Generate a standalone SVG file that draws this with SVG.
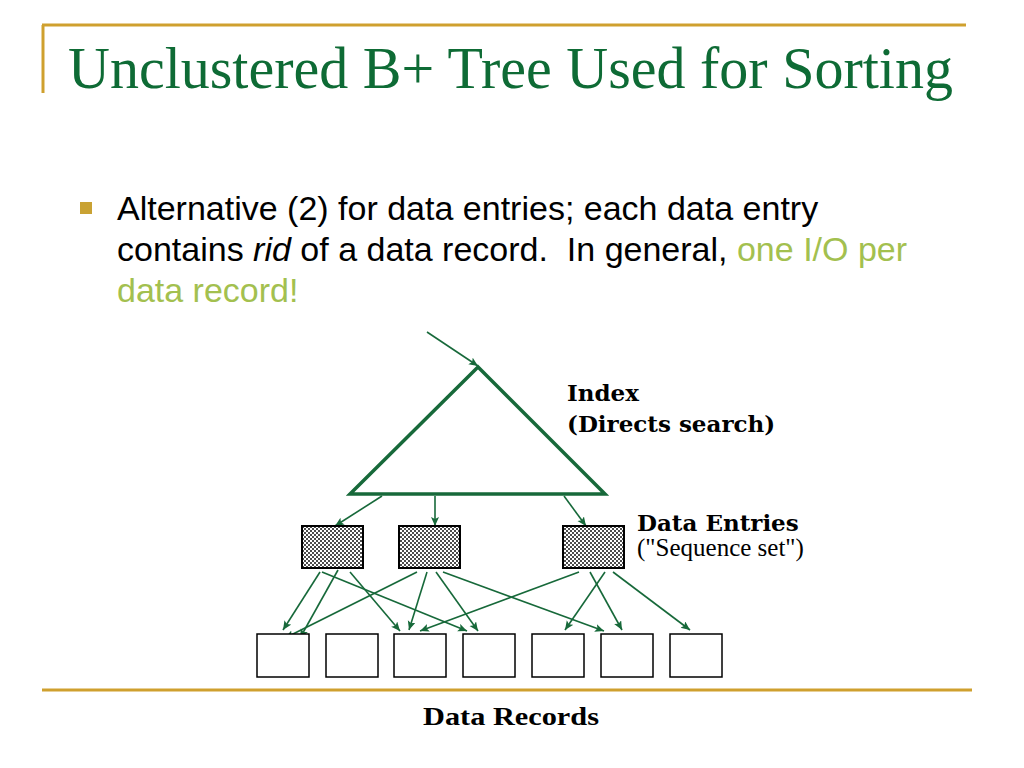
<svg xmlns="http://www.w3.org/2000/svg" width="1024" height="768" viewBox="0 0 1024 768">
<defs>
<style>
.gold{stroke:#CFA02E;stroke-width:3;fill:none}
.title{font-family:"Liberation Serif",serif;font-size:60px;fill:#0E6B35}
.body{font-family:"Liberation Sans",Arial,sans-serif;font-size:34px;fill:#000}
.hl{fill:#A3C04F}
.lbl{font-family:"DejaVu Serif",serif;font-weight:bold;font-size:23px;fill:#000}
.sub{font-family:"Liberation Serif",serif;font-size:25px;fill:#000}
.tri{fill:none;stroke:#17693A;stroke-width:3.5;stroke-linejoin:miter}
.arr{stroke:#17693A;stroke-width:1.6;fill:none;marker-end:url(#ah)}
.entry{fill:url(#stip);stroke:#000;stroke-width:2}
.rec{fill:#fff;stroke:#000;stroke-width:1.5}
.rl{font-family:"Liberation Serif",serif;font-weight:bold;font-size:26px;fill:#000}
</style>
<marker id="ah" markerUnits="userSpaceOnUse" markerWidth="12" markerHeight="10" refX="9" refY="4" orient="auto">
<path d="M0,0 L9,4 L0,8 L2,4 z" fill="#17693A"/>
</marker>
<pattern id="stip" patternUnits="userSpaceOnUse" width="4" height="4">
<rect width="4" height="4" fill="#fff"/>
<circle cx="1" cy="1" r="1" fill="#111"/>
<circle cx="3" cy="3" r="1" fill="#111"/>
</pattern>
</defs>
<rect width="1024" height="768" fill="#fff"/>
<g id="frame">
<line class="gold" x1="42" y1="25" x2="966" y2="25"/>
<line class="gold" x1="43" y1="25" x2="43" y2="93"/>
<line class="gold" x1="42" y1="690" x2="972" y2="690"/>
</g>
<text id="title" class="title" x="68" y="88" textLength="885" lengthAdjust="spacingAndGlyphs">Unclustered B+ Tree Used for Sorting</text>
<g id="bullet">
<rect x="80" y="202" width="12" height="12" fill="#C9A233"/>
<text class="body" x="117" y="220">Alternative (2) for data entries; each data entry</text>
<text class="body" x="117" y="261" xml:space="preserve">contains <tspan font-style="italic">rid</tspan> of a data record.  In general, <tspan class="hl">one I/O per</tspan></text>
<text class="body hl" x="117" y="302">data record!</text>
</g>
<g id="connectors">
<line class="arr" x1="427" y1="332" x2="478" y2="366"/>
<line class="arr" x1="382" y1="496" x2="335" y2="526"/>
<line class="arr" x1="435" y1="496" x2="435" y2="526"/>
<line class="arr" x1="564" y1="496" x2="586" y2="526"/>
<line class="arr" x1="320" y1="572" x2="283" y2="630"/>
<line class="arr" x1="322" y1="572" x2="467" y2="631"/>
<line class="arr" x1="338" y1="570" x2="300" y2="638"/>
<line class="arr" x1="350" y1="572" x2="400" y2="631"/>
<line class="arr" x1="417" y1="572" x2="285" y2="638"/>
<line class="arr" x1="427" y1="572" x2="409" y2="630"/>
<line class="arr" x1="436" y1="572" x2="478" y2="631"/>
<line class="arr" x1="443" y1="572" x2="604" y2="631"/>
<line class="arr" x1="579" y1="572" x2="420" y2="631"/>
<line class="arr" x1="590" y1="572" x2="622" y2="630"/>
<line class="arr" x1="605" y1="572" x2="565" y2="630"/>
<line class="arr" x1="613" y1="572" x2="690" y2="630"/>
</g>
<g id="index">
<polygon class="tri" points="478,367 350,494 605,494"/>
<text class="lbl" x="567" y="401">Index</text>
<text class="lbl" x="567" y="432">(Directs search)</text>
</g>
<g id="entry1"><rect class="entry" x="302" y="526" width="61" height="42"/></g>
<g id="entry2"><rect class="entry" x="399" y="526" width="61" height="42"/></g>
<g id="entry3"><rect class="entry" x="563" y="526" width="61" height="42"/></g>
<g id="entries-label">
<text class="lbl" x="637" y="531">Data Entries</text>
<text class="sub" x="637" y="556">("Sequence set")</text>
</g>
<g id="rec1"><rect class="rec" x="257" y="634" width="52" height="43"/></g>
<g id="rec2"><rect class="rec" x="326" y="634" width="52" height="43"/></g>
<g id="rec3"><rect class="rec" x="394" y="634" width="52" height="43"/></g>
<g id="rec4"><rect class="rec" x="463" y="634" width="52" height="43"/></g>
<g id="rec5"><rect class="rec" x="532" y="634" width="52" height="43"/></g>
<g id="rec6"><rect class="rec" x="601" y="634" width="52" height="43"/></g>
<g id="rec7"><rect class="rec" x="670" y="634" width="52" height="43"/></g>
<text id="records-label" class="rl" x="423" y="725" textLength="176" lengthAdjust="spacingAndGlyphs">Data Records</text>
</svg>
